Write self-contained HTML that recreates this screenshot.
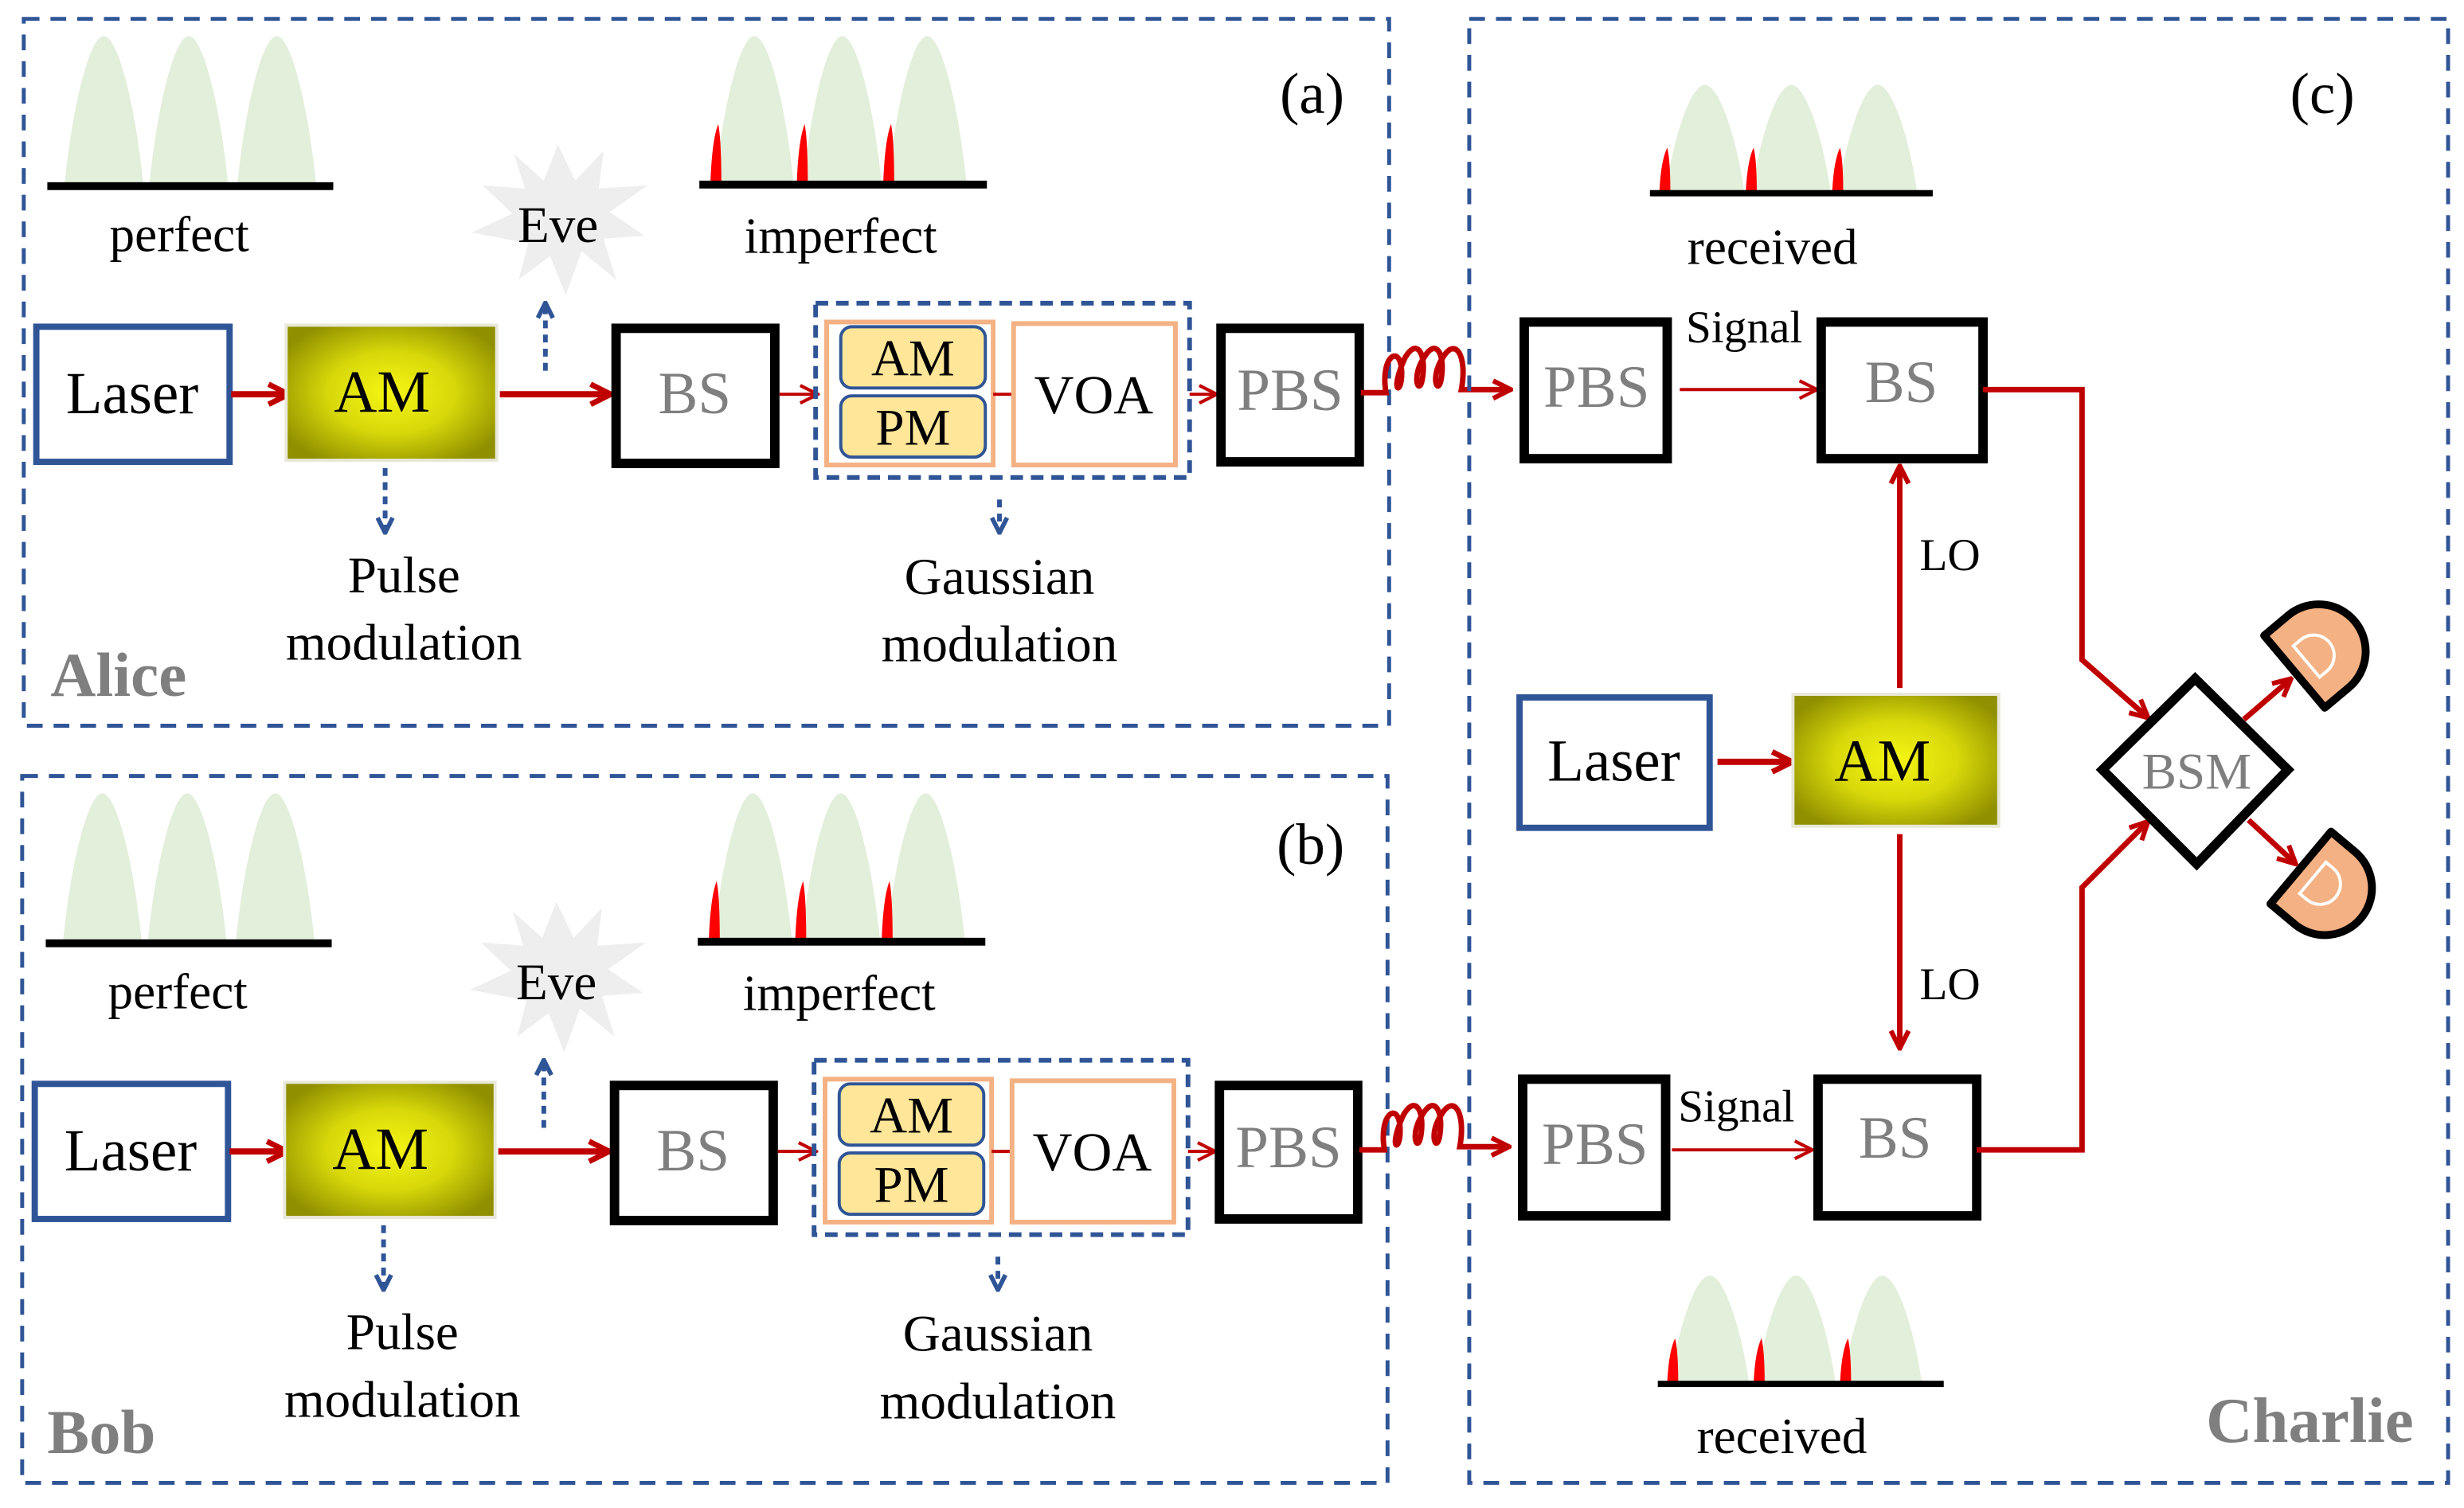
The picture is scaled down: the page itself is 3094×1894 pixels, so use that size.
<!DOCTYPE html>
<html><head><meta charset="utf-8"><style>
html,body{margin:0;padding:0;background:#fff;}
svg{display:block;}
text{font-family:"Liberation Serif",serif;}
</style></head><body>
<svg width="3094" height="1894" viewBox="0 0 1568 960" xmlns="http://www.w3.org/2000/svg">
<defs>
<radialGradient id="am" cx="50%" cy="50%" r="60%">
<stop offset="0" stop-color="#f6f614"/><stop offset="0.5" stop-color="#d8d80a"/><stop offset="1" stop-color="#8f8f00"/>
</radialGradient>
<marker id="ar" viewBox="0 0 10 10" refX="8" refY="5" markerWidth="4" markerHeight="4" orient="auto"><path d="M1 1 L9 5 L1 9" fill="none" stroke="#c00000" stroke-width="2.2"/></marker>
<marker id="ar2" viewBox="0 0 10 10" refX="8" refY="5" markerWidth="7" markerHeight="7" orient="auto"><path d="M1 1 L9 5 L1 9" fill="none" stroke="#c00000" stroke-width="1.5"/></marker>
<marker id="ab" viewBox="0 0 10 10" refX="8" refY="5" markerWidth="4" markerHeight="4" orient="auto"><path d="M1 1 L9 5 L1 9" fill="none" stroke="#2f5597" stroke-width="2.4"/></marker>
<g id="pulse"><path d="M-25 0 C-20 -50 -9 -94 0 -94 C9 -94 20 -50 25 0 Z" fill="#e2efda"/></g>
<g id="pulse2"><path d="M-25 0 C-20 -35 -9 -68 0 -68 C9 -68 20 -35 25 0 Z" fill="#e2efda"/></g>
<g id="spike"><path d="M-4 0 Q-3 -28 1 -38 Q3 -28 3 0 Z" fill="#ff0000"/></g>
<g id="spike2"><path d="M-4 0 Q-3 -20 1 -28 Q3 -20 3 0 Z" fill="#ff0000"/></g>
<g id="panel">
<rect x="15" y="12" width="869" height="450" fill="none" stroke="#2f5597" stroke-width="2.5" stroke-dasharray="10,7"/>
<use href="#pulse" x="66" y="117"/><use href="#pulse" x="120" y="117"/><use href="#pulse" x="176" y="117"/>
<rect x="30" y="116" width="182" height="5" fill="#000"/>
<text x="114" y="160" font-size="32" text-anchor="middle">perfect</text>
<polygon points="355,92 366,115 384,96 381,120 412,118 388,135 410,150 384,152 392,178 370,160 360,188 350,163 330,178 336,155 300,148 326,136 307,118 334,120 327,98 346,115" fill="#eeeeee"/>
<text x="355" y="154" font-size="33" text-anchor="middle">Eve</text>
<use href="#pulse" x="480" y="117"/><use href="#pulse" x="536" y="117"/><use href="#pulse" x="590" y="117"/>
<use href="#spike" x="456" y="117"/><use href="#spike" x="511" y="117"/><use href="#spike" x="566" y="117"/>
<rect x="445" y="115" width="183" height="5" fill="#000"/>
<text x="535" y="161" font-size="32" text-anchor="middle">imperfect</text>
<rect x="23" y="208" width="123" height="86" fill="#fff" stroke="#2f5597" stroke-width="4"/>
<text x="84" y="263" font-size="38" text-anchor="middle">Laser</text>
<line x1="147" y1="251" x2="182" y2="251" stroke="#c00000" stroke-width="4" marker-end="url(#ar)"/>
<rect x="182" y="207" width="134" height="86" fill="url(#am)" stroke="#e8e8d8" stroke-width="2"/>
<text x="243" y="262" font-size="38" text-anchor="middle">AM</text>
<line x1="347" y1="236" x2="347" y2="194" stroke="#2f5597" stroke-width="3" stroke-dasharray="5,4" marker-end="url(#ab)"/>
<line x1="245" y1="298" x2="245" y2="338" stroke="#2f5597" stroke-width="3" stroke-dasharray="5,4" marker-end="url(#ab)"/>
<line x1="318" y1="251" x2="387" y2="251" stroke="#c00000" stroke-width="4" marker-end="url(#ar)"/>
<rect x="392" y="209" width="101" height="86" fill="#fff" stroke="#000" stroke-width="6"/>
<text x="442" y="263" font-size="38" text-anchor="middle" fill="#7f7f7f">BS</text>
<line x1="496" y1="251" x2="519" y2="251" stroke="#c00000" stroke-width="2" marker-end="url(#ar2)"/>
<rect x="519" y="193" width="238" height="111" fill="none" stroke="#2f5597" stroke-width="3" stroke-dasharray="8,5"/>
<rect x="526" y="205" width="106" height="91" fill="#fff" stroke="#f4b183" stroke-width="3"/>
<rect x="535" y="208" width="92" height="39" rx="7" fill="#ffe699" stroke="#2f5597" stroke-width="2"/>
<rect x="535" y="252" width="92" height="39" rx="7" fill="#ffe699" stroke="#2f5597" stroke-width="2"/>
<text x="581" y="239" font-size="33" text-anchor="middle">AM</text>
<text x="581" y="283" font-size="33" text-anchor="middle">PM</text>
<line x1="632" y1="251" x2="644" y2="251" stroke="#c00000" stroke-width="2"/>
<rect x="645" y="206" width="103" height="90" fill="#fff" stroke="#f4b183" stroke-width="3"/>
<text x="696" y="263" font-size="35" text-anchor="middle">VOA</text>
<line x1="757" y1="251" x2="773" y2="251" stroke="#c00000" stroke-width="2" marker-end="url(#ar2)"/>
<line x1="636" y1="318" x2="636" y2="338" stroke="#2f5597" stroke-width="3" stroke-dasharray="5,4" marker-end="url(#ab)"/>
<rect x="777" y="209" width="88" height="85" fill="#fff" stroke="#000" stroke-width="6"/>
<text x="821" y="261" font-size="38" text-anchor="middle" fill="#7f7f7f">PBS</text>
<path d="M866 250 L882 250 C878 226 892 218 892 238 C892 252 884 250 894 228 C902 214 908 226 905 242 C903 252 898 240 906 228 C914 214 920 226 917 242 C915 252 910 240 918 228 C926 214 934 226 930 248 L960 248" fill="none" stroke="#c00000" stroke-width="3.5" marker-end="url(#ar)"/>
<text x="257" y="377" font-size="33" text-anchor="middle">Pulse</text>
<text x="257" y="420" font-size="33" text-anchor="middle">modulation</text>
<text x="636" y="378" font-size="33" text-anchor="middle">Gaussian</text>
<text x="636" y="421" font-size="33" text-anchor="middle">modulation</text>
</g>
<g id="det"><path d="M-18 -30 L2 -30 A30 30 0 0 1 2 30 L-18 30 Z" fill="#f4b183" stroke="#000" stroke-width="5" stroke-linejoin="round"/><path d="M-8 -13 L-2 -13 A13 13 0 0 1 -2 13 L-8 13 Z" fill="none" stroke="#fff" stroke-width="2"/></g>
</defs>

<use href="#panel"/>
<text x="835" y="72" font-size="37" text-anchor="middle">(a)</text>
<text x="32" y="443" font-size="40" font-weight="bold" fill="#7f7f7f">Alice</text>
<g transform="translate(-1,482)">
<use href="#panel"/>
</g>
<text x="834" y="550" font-size="37" text-anchor="middle">(b)</text>
<text x="30" y="925" font-size="40" font-weight="bold" fill="#7f7f7f">Bob</text>

<!-- Charlie -->
<rect x="935" y="12" width="623" height="932" fill="none" stroke="#2f5597" stroke-width="2.5" stroke-dasharray="10,7"/>
<text x="1478" y="72" font-size="37" text-anchor="middle">(c)</text>
<use href="#pulse2" x="1085" y="122"/><use href="#pulse2" x="1140" y="122"/><use href="#pulse2" x="1195" y="122"/>
<use href="#spike2" x="1060" y="122"/><use href="#spike2" x="1115" y="122"/><use href="#spike2" x="1170" y="122"/>
<rect x="1050" y="121" width="180" height="4" fill="#000"/>
<text x="1128" y="168" font-size="32" text-anchor="middle">received</text>

<rect x="970" y="205" width="91" height="87" fill="#fff" stroke="#000" stroke-width="6"/>
<text x="1016" y="259" font-size="38" text-anchor="middle" fill="#7f7f7f">PBS</text>
<text x="1110" y="218" font-size="29" text-anchor="middle">Signal</text>
<line x1="1069" y1="248" x2="1155" y2="248" stroke="#c00000" stroke-width="2" marker-end="url(#ar2)"/>
<rect x="1159" y="205" width="103" height="87" fill="#fff" stroke="#000" stroke-width="6"/>
<text x="1210" y="256" font-size="38" text-anchor="middle" fill="#7f7f7f">BS</text>
<polyline points="1262,248 1325,248 1325,420 1366,456" fill="none" stroke="#c00000" stroke-width="3.5" marker-end="url(#ar)"/>
<line x1="1209" y1="438" x2="1209" y2="298" stroke="#c00000" stroke-width="3.5" marker-end="url(#ar)"/>
<text x="1241" y="363" font-size="29" text-anchor="middle">LO</text>
<rect x="967" y="444" width="121" height="83" fill="#fff" stroke="#2f5597" stroke-width="4"/>
<text x="1027" y="497" font-size="38" text-anchor="middle">Laser</text>
<line x1="1093" y1="485" x2="1139" y2="485" stroke="#c00000" stroke-width="4" marker-end="url(#ar)"/>
<rect x="1141" y="442" width="131" height="84" fill="url(#am)" stroke="#e8e8d8" stroke-width="2"/>
<text x="1198" y="497" font-size="38" text-anchor="middle">AM</text>
<line x1="1209" y1="531" x2="1209" y2="666" stroke="#c00000" stroke-width="3.5" marker-end="url(#ar)"/>
<text x="1241" y="636" font-size="29" text-anchor="middle">LO</text>
<rect x="969" y="687" width="91" height="87" fill="#fff" stroke="#000" stroke-width="6"/>
<text x="1015" y="741" font-size="38" text-anchor="middle" fill="#7f7f7f">PBS</text>
<text x="1105" y="714" font-size="29" text-anchor="middle">Signal</text>
<line x1="1064" y1="732" x2="1152" y2="732" stroke="#c00000" stroke-width="2" marker-end="url(#ar2)"/>
<rect x="1157" y="687" width="101" height="87" fill="#fff" stroke="#000" stroke-width="6"/>
<text x="1206" y="737" font-size="38" text-anchor="middle" fill="#7f7f7f">BS</text>
<polyline points="1258,732 1325,732 1325,565 1366,524" fill="none" stroke="#c00000" stroke-width="3.5" marker-end="url(#ar)"/>
<polygon points="1397,432 1456,490 1398,550 1338,490" fill="#fff" stroke="#000" stroke-width="6" stroke-linejoin="miter"/>
<text x="1398" y="502" font-size="33" text-anchor="middle" fill="#7f7f7f">BSM</text>
<line x1="1428" y1="458" x2="1457" y2="433" stroke="#c00000" stroke-width="3.5" marker-end="url(#ar)"/>
<line x1="1431" y1="522" x2="1460" y2="549" stroke="#c00000" stroke-width="3.5" marker-end="url(#ar)"/>
<use href="#det" transform="translate(1474,416) rotate(-40)"/>
<use href="#det" transform="translate(1478,564) rotate(40)"/>

<use href="#pulse2" x="1088" y="880"/><use href="#pulse2" x="1143" y="880"/><use href="#pulse2" x="1198" y="880"/>
<use href="#spike2" x="1065" y="880"/><use href="#spike2" x="1120" y="880"/><use href="#spike2" x="1175" y="880"/>
<rect x="1055" y="879" width="182" height="4" fill="#000"/>
<text x="1134" y="925" font-size="32" text-anchor="middle">received</text>
<text x="1470" y="918" font-size="41" font-weight="bold" fill="#7f7f7f" text-anchor="middle">Charlie</text>
</svg>
</body></html>
